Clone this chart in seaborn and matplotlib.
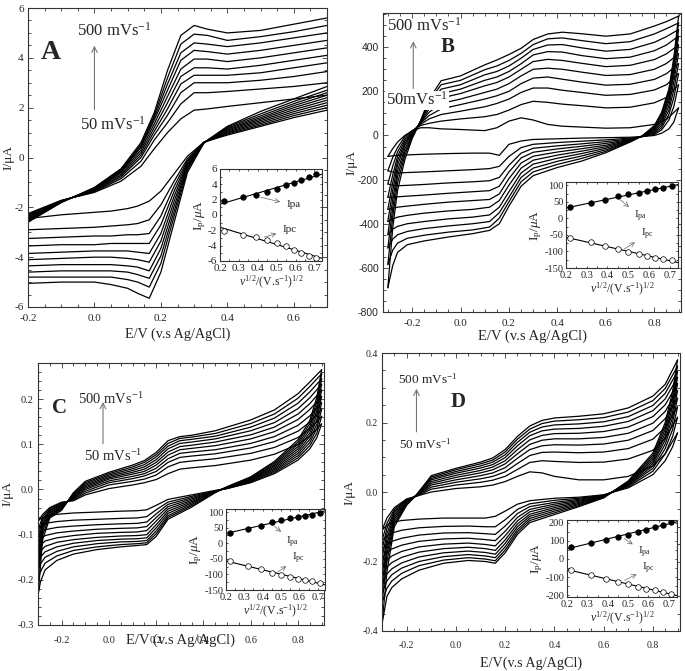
import numpy as np
import pandas as pd
import matplotlib.pyplot as plt
import seaborn as sns
from matplotlib.ticker import MultipleLocator, AutoMinorLocator, FormatStrFormatter

# scan rates (mV/s), one CV trace each
rates = [50, 100, 150, 200, 250, 300, 350, 400, 450, 500]

# ---- panel A : rows = potential, columns = scan rate (50 -> 500)
a_e_fwd = [-0.2, -0.1, 0.0, 0.08, 0.14, 0.18, 0.22, 0.26, 0.3, 0.34, 0.4, 0.5, 0.6, 0.7]
a_i_fwd = [
    [-2.25, -2.29, -2.33, -2.37, -2.41, -2.45, -2.49, -2.53, -2.57, -2.6],
    [-1.72, -1.73, -1.74, -1.75, -1.76, -1.77, -1.78, -1.79, -1.8, -1.81],
    [-1.4, -1.38, -1.35, -1.33, -1.3, -1.28, -1.26, -1.24, -1.22, -1.2],
    [-0.95, -0.85, -0.78, -0.72, -0.66, -0.6, -0.56, -0.52, -0.48, -0.45],
    [-0.35, -0.15, 0.0, 0.1, 0.2, 0.3, 0.4, 0.45, 0.52, 0.6],
    [0.35, 0.7, 0.9, 1.05, 1.2, 1.35, 1.5, 1.6, 1.7, 1.8],
    [1.0, 1.4, 1.7, 1.95, 2.2, 2.45, 2.7, 2.95, 3.2, 3.5],
    [1.55, 2.15, 2.6, 2.95, 3.25, 3.55, 3.9, 4.2, 4.55, 4.9],
    [1.9, 2.6, 3.0, 3.3, 3.6, 3.95, 4.3, 4.6, 4.95, 5.3],
    [1.95, 2.6, 3.0, 3.3, 3.6, 3.95, 4.25, 4.55, 4.9, 5.15],
    [2.05, 2.65, 3.0, 3.3, 3.55, 3.85, 4.15, 4.45, 4.7, 5.0],
    [2.2, 2.75, 3.1, 3.4, 3.7, 4.0, 4.3, 4.6, 4.85, 5.1],
    [2.35, 2.85, 3.25, 3.6, 3.9, 4.2, 4.5, 4.8, 5.05, 5.35],
    [2.5, 3.0, 3.45, 3.8, 4.1, 4.4, 4.7, 5.0, 5.3, 5.6],
]
a_e_rev = [0.7, 0.6, 0.5, 0.4, 0.33, 0.28, 0.24, 0.2, 0.165, 0.13, 0.1, 0.05, 0.0, -0.1, -0.2]
a_i_rev = [
    [1.9, 2.0, 2.1, 2.2, 2.3, 2.4, 2.5, 2.6, 2.7, 2.85],
    [1.6, 1.68, 1.76, 1.84, 1.92, 2.0, 2.08, 2.16, 2.25, 2.35],
    [1.25, 1.3, 1.36, 1.42, 1.48, 1.54, 1.6, 1.67, 1.75, 1.85],
    [0.9, 0.94, 0.98, 1.02, 1.06, 1.1, 1.14, 1.18, 1.22, 1.25],
    [0.62, 0.62, 0.61, 0.61, 0.6, 0.6, 0.6, 0.6, 0.6, 0.6],
    [0.05, -0.05, -0.12, -0.18, -0.25, -0.3, -0.36, -0.42, -0.5, -0.6],
    [-0.65, -0.95, -1.15, -1.35, -1.55, -1.75, -1.95, -2.15, -2.35, -2.6],
    [-1.35, -1.9, -2.35, -2.7, -3.05, -3.35, -3.65, -3.95, -4.25, -4.6],
    [-1.75, -2.5, -3.05, -3.45, -3.85, -4.2, -4.55, -4.85, -5.2, -5.65],
    [-1.95, -2.65, -3.1, -3.45, -3.8, -4.1, -4.4, -4.7, -5.0, -5.45],
    [-2.05, -2.7, -3.1, -3.45, -3.75, -4.05, -4.35, -4.6, -4.9, -5.25],
    [-2.15, -2.75, -3.15, -3.45, -3.75, -4.0, -4.3, -4.55, -4.8, -5.1],
    [-2.2, -2.8, -3.15, -3.5, -3.75, -4.0, -4.3, -4.55, -4.8, -5.0],
    [-2.3, -2.85, -3.2, -3.5, -3.8, -4.05, -4.3, -4.55, -4.8, -5.0],
    [-2.45, -2.9, -3.25, -3.55, -3.85, -4.1, -4.35, -4.6, -4.8, -5.05],
]

# ---- panel B
b_e_fwd = [-0.3, -0.28, -0.26, -0.23, -0.2, -0.165, -0.13, -0.08, 0.0, 0.1, 0.15, 0.2,
           0.25, 0.3, 0.36, 0.42, 0.5, 0.6, 0.7, 0.8, 0.85, 0.9]
b_i_fwd = [
    [-95, -160, -220, -280, -335, -390, -450, -510, -585, -690],
    [-60, -100, -140, -180, -215, -250, -290, -330, -370, -420],
    [-30, -55, -75, -95, -115, -135, -160, -185, -215, -250],
    [0, -5, -15, -25, -35, -45, -60, -75, -90, -110],
    [20, 22, 18, 14, 10, 5, 0, -5, -10, -15],
    [35, 45, 50, 55, 58, 60, 62, 64, 65, 66],
    [35, 55, 75, 90, 105, 120, 135, 145, 155, 165],
    [30, 65, 95, 120, 145, 170, 190, 210, 230, 248],
    [27, 75, 110, 140, 165, 190, 210, 230, 250, 270],
    [22, 85, 130, 165, 195, 225, 250, 275, 298, 320],
    [35, 95, 145, 180, 210, 240, 265, 290, 315, 342],
    [65, 115, 165, 200, 235, 265, 290, 315, 340, 367],
    [80, 140, 195, 235, 270, 300, 325, 350, 372, 395],
    [70, 155, 215, 260, 300, 335, 365, 390, 412, 435],
    [50, 150, 215, 265, 305, 345, 380, 410, 438, 460],
    [42, 142, 205, 255, 300, 340, 378, 412, 442, 468],
    [38, 135, 195, 242, 287, 327, 362, 397, 430, 461],
    [33, 125, 182, 228, 272, 312, 348, 382, 416, 450],
    [35, 128, 186, 232, 276, 318, 355, 390, 425, 460],
    [50, 148, 206, 254, 300, 344, 384, 422, 460, 496],
    [72, 172, 230, 280, 326, 370, 410, 448, 484, 516],
    [125, 230, 280, 325, 370, 410, 450, 480, 510, 541],
]
b_e_rev = [0.9, 0.88, 0.86, 0.83, 0.8, 0.75, 0.7, 0.6, 0.5, 0.4, 0.3, 0.25, 0.2, 0.16,
           0.12, 0.05, -0.05, -0.15, -0.22, -0.26, -0.28, -0.3]
b_i_rev = [
    [125, 230, 280, 325, 370, 410, 450, 480, 510, 541],
    [60, 130, 170, 205, 240, 270, 295, 315, 335, 350],
    [30, 70, 95, 115, 135, 155, 170, 185, 200, 210],
    [10, 25, 35, 45, 55, 65, 75, 85, 95, 105],
    [0, 5, 10, 15, 20, 25, 30, 35, 40, 45],
    [-5, -5, -5, -4, -4, -3, -3, -2, -2, -2],
    [-8, -12, -15, -18, -20, -22, -24, -26, -28, -30],
    [-10, -20, -28, -36, -44, -51, -58, -65, -72, -78],
    [-12, -26, -38, -49, -60, -71, -82, -93, -104, -116],
    [-15, -32, -47, -61, -75, -89, -103, -117, -131, -145],
    [-18, -40, -58, -76, -94, -112, -130, -148, -165, -182],
    [-25, -55, -80, -102, -125, -148, -170, -190, -210, -230],
    [-40, -95, -135, -165, -195, -225, -255, -280, -300, -320],
    [-90, -140, -190, -230, -265, -295, -325, -350, -375, -400],
    [-80, -150, -205, -250, -290, -325, -360, -390, -415, -430],
    [-80, -155, -210, -255, -295, -335, -370, -400, -428, -445],
    [-82, -160, -215, -262, -302, -342, -378, -410, -438, -460],
    [-85, -165, -222, -270, -312, -352, -390, -422, -452, -478],
    [-88, -168, -226, -275, -320, -362, -400, -435, -466, -495],
    [-90, -170, -228, -278, -325, -370, -412, -450, -488, -530],
    [-92, -165, -225, -280, -330, -378, -425, -470, -520, -590],
    [-95, -160, -220, -280, -335, -390, -450, -510, -585, -690],
]

# ---- panel C
c_e_fwd = [-0.3, -0.28, -0.25, -0.2, -0.15, -0.1, 0.0, 0.1, 0.15, 0.2, 0.25, 0.3, 0.35,
           0.45, 0.6, 0.7, 0.8, 0.85, 0.9]
c_i_fwd = [
    [-0.07, -0.09, -0.105, -0.12, -0.135, -0.15, -0.165, -0.18, -0.2, -0.235],
    [-0.055, -0.06, -0.065, -0.07, -0.075, -0.08, -0.085, -0.09, -0.1, -0.11],
    [-0.04, -0.042, -0.045, -0.047, -0.05, -0.052, -0.055, -0.057, -0.06, -0.063],
    [-0.028, -0.03, -0.032, -0.034, -0.036, -0.038, -0.04, -0.042, -0.044, -0.046],
    [-0.025, -0.023, -0.021, -0.019, -0.017, -0.015, -0.013, -0.011, -0.009, -0.007],
    [-0.012, -0.008, -0.004, 0.0, 0.003, 0.006, 0.009, 0.012, 0.015, 0.018],
    [0.002, 0.01, 0.015, 0.019, 0.023, 0.026, 0.029, 0.032, 0.035, 0.038],
    [0.01, 0.018, 0.024, 0.029, 0.034, 0.038, 0.042, 0.046, 0.05, 0.054],
    [0.015, 0.023, 0.03, 0.035, 0.04, 0.045, 0.05, 0.055, 0.06, 0.064],
    [0.022, 0.032, 0.04, 0.047, 0.054, 0.06, 0.066, 0.072, 0.077, 0.082],
    [0.035, 0.05, 0.06, 0.068, 0.076, 0.083, 0.09, 0.096, 0.102, 0.108],
    [0.045, 0.06, 0.071, 0.08, 0.088, 0.095, 0.102, 0.108, 0.113, 0.117],
    [0.048, 0.063, 0.074, 0.083, 0.091, 0.098, 0.105, 0.111, 0.116, 0.12],
    [0.053, 0.068, 0.079, 0.088, 0.097, 0.105, 0.112, 0.118, 0.124, 0.13],
    [0.065, 0.08, 0.092, 0.102, 0.112, 0.121, 0.13, 0.138, 0.146, 0.154],
    [0.078, 0.093, 0.106, 0.117, 0.128, 0.138, 0.148, 0.158, 0.167, 0.176],
    [0.1, 0.115, 0.129, 0.142, 0.155, 0.167, 0.179, 0.191, 0.202, 0.212],
    [0.118, 0.134, 0.149, 0.163, 0.177, 0.19, 0.203, 0.216, 0.228, 0.238],
    [0.145, 0.162, 0.178, 0.192, 0.206, 0.22, 0.233, 0.245, 0.256, 0.265],
]
c_e_rev = [0.9, 0.88, 0.85, 0.8, 0.7, 0.6, 0.5, 0.45, 0.35, 0.25, 0.2, 0.16, 0.12, 0.05,
           -0.05, -0.15, -0.22, -0.27, -0.29, -0.3]
c_i_rev = [
    [0.145, 0.162, 0.178, 0.192, 0.206, 0.22, 0.233, 0.245, 0.256, 0.265],
    [0.115, 0.125, 0.135, 0.145, 0.155, 0.165, 0.175, 0.185, 0.195, 0.205],
    [0.09, 0.097, 0.104, 0.111, 0.118, 0.125, 0.132, 0.139, 0.146, 0.153],
    [0.065, 0.07, 0.075, 0.08, 0.085, 0.09, 0.095, 0.1, 0.105, 0.11],
    [0.035, 0.038, 0.041, 0.044, 0.047, 0.05, 0.053, 0.056, 0.059, 0.062],
    [0.015, 0.016, 0.018, 0.019, 0.021, 0.022, 0.024, 0.025, 0.027, 0.028],
    [0.002, 0.002, 0.003, 0.003, 0.004, 0.004, 0.005, 0.005, 0.006, 0.006],
    [-0.002, -0.003, -0.003, -0.004, -0.004, -0.005, -0.005, -0.006, -0.006, -0.007],
    [-0.012, -0.015, -0.018, -0.021, -0.024, -0.027, -0.03, -0.033, -0.036, -0.039],
    [-0.022, -0.028, -0.033, -0.038, -0.043, -0.048, -0.053, -0.058, -0.062, -0.066],
    [-0.035, -0.045, -0.054, -0.062, -0.07, -0.078, -0.085, -0.092, -0.098, -0.104],
    [-0.045, -0.06, -0.072, -0.082, -0.091, -0.1, -0.107, -0.113, -0.118, -0.122],
    [-0.047, -0.063, -0.075, -0.085, -0.094, -0.102, -0.109, -0.115, -0.12, -0.124],
    [-0.048, -0.064, -0.076, -0.086, -0.095, -0.103, -0.11, -0.116, -0.122, -0.127],
    [-0.05, -0.066, -0.078, -0.088, -0.097, -0.106, -0.113, -0.12, -0.127, -0.133],
    [-0.052, -0.068, -0.081, -0.092, -0.102, -0.111, -0.119, -0.127, -0.135, -0.143],
    [-0.055, -0.071, -0.084, -0.096, -0.107, -0.117, -0.127, -0.137, -0.147, -0.157],
    [-0.06, -0.075, -0.089, -0.102, -0.114, -0.126, -0.138, -0.15, -0.163, -0.178],
    [-0.065, -0.082, -0.096, -0.11, -0.124, -0.137, -0.15, -0.165, -0.182, -0.205],
    [-0.07, -0.09, -0.105, -0.12, -0.135, -0.15, -0.165, -0.18, -0.2, -0.235],
]

# ---- panel D
d_e_fwd = [-0.3, -0.28, -0.25, -0.2, -0.16, -0.1, 0.0, 0.1, 0.15, 0.2, 0.25, 0.3, 0.35,
           0.4, 0.5, 0.6, 0.7, 0.8, 0.85, 0.9]
d_i_fwd = [
    [-0.11, -0.14, -0.165, -0.19, -0.215, -0.24, -0.265, -0.29, -0.32, -0.38],
    [-0.075, -0.09, -0.105, -0.12, -0.135, -0.15, -0.165, -0.18, -0.2, -0.23],
    [-0.045, -0.05, -0.055, -0.06, -0.066, -0.072, -0.078, -0.085, -0.092, -0.1],
    [-0.02, -0.022, -0.024, -0.026, -0.028, -0.03, -0.032, -0.034, -0.036, -0.038],
    [-0.012, -0.012, -0.011, -0.011, -0.01, -0.01, -0.009, -0.009, -0.008, -0.008],
    [0.0, 0.008, 0.014, 0.02, 0.025, 0.03, 0.035, 0.039, 0.043, 0.047],
    [0.01, 0.02, 0.028, 0.035, 0.042, 0.048, 0.054, 0.059, 0.064, 0.068],
    [0.015, 0.028, 0.038, 0.047, 0.055, 0.062, 0.069, 0.075, 0.081, 0.086],
    [0.02, 0.034, 0.045, 0.055, 0.064, 0.072, 0.079, 0.086, 0.092, 0.098],
    [0.03, 0.045, 0.058, 0.07, 0.081, 0.09, 0.099, 0.107, 0.115, 0.122],
    [0.045, 0.065, 0.082, 0.097, 0.11, 0.122, 0.133, 0.143, 0.152, 0.16],
    [0.058, 0.085, 0.105, 0.122, 0.137, 0.15, 0.162, 0.172, 0.181, 0.19],
    [0.055, 0.09, 0.114, 0.133, 0.149, 0.163, 0.176, 0.187, 0.197, 0.206],
    [0.045, 0.088, 0.115, 0.136, 0.153, 0.168, 0.181, 0.193, 0.204, 0.213],
    [0.035, 0.085, 0.113, 0.135, 0.153, 0.169, 0.183, 0.196, 0.208, 0.218],
    [0.035, 0.086, 0.115, 0.138, 0.157, 0.174, 0.189, 0.202, 0.214, 0.225],
    [0.045, 0.095, 0.125, 0.149, 0.169, 0.187, 0.203, 0.217, 0.23, 0.242],
    [0.075, 0.12, 0.152, 0.177, 0.198, 0.217, 0.234, 0.249, 0.263, 0.276],
    [0.11, 0.155, 0.186, 0.211, 0.232, 0.251, 0.268, 0.284, 0.298, 0.31],
    [0.17, 0.215, 0.245, 0.27, 0.292, 0.312, 0.33, 0.347, 0.362, 0.38],
]
d_e_rev = [0.9, 0.88, 0.85, 0.8, 0.7, 0.6, 0.5, 0.4, 0.3, 0.25, 0.2, 0.16, 0.12, 0.05,
           -0.05, -0.15, -0.22, -0.26, -0.28, -0.3]
d_i_rev = [
    [0.17, 0.215, 0.245, 0.27, 0.292, 0.312, 0.33, 0.347, 0.362, 0.38],
    [0.13, 0.16, 0.18, 0.2, 0.215, 0.23, 0.245, 0.26, 0.275, 0.29],
    [0.09, 0.11, 0.125, 0.138, 0.15, 0.16, 0.17, 0.18, 0.19, 0.2],
    [0.05, 0.06, 0.068, 0.075, 0.082, 0.088, 0.094, 0.1, 0.106, 0.112],
    [0.012, 0.015, 0.018, 0.02, 0.022, 0.024, 0.026, 0.028, 0.03, 0.032],
    [-0.008, -0.009, -0.01, -0.011, -0.012, -0.013, -0.014, -0.015, -0.016, -0.017],
    [-0.015, -0.018, -0.021, -0.024, -0.027, -0.03, -0.033, -0.036, -0.039, -0.042],
    [-0.018, -0.024, -0.03, -0.035, -0.04, -0.045, -0.05, -0.055, -0.06, -0.065],
    [-0.025, -0.034, -0.042, -0.05, -0.057, -0.064, -0.07, -0.076, -0.082, -0.088],
    [-0.035, -0.05, -0.062, -0.073, -0.083, -0.092, -0.1, -0.108, -0.115, -0.122],
    [-0.055, -0.08, -0.098, -0.113, -0.126, -0.138, -0.148, -0.158, -0.167, -0.175],
    [-0.07, -0.1, -0.122, -0.14, -0.155, -0.168, -0.179, -0.189, -0.198, -0.205],
    [-0.075, -0.1, -0.12, -0.137, -0.151, -0.163, -0.174, -0.184, -0.193, -0.2],
    [-0.075, -0.098, -0.117, -0.133, -0.147, -0.159, -0.17, -0.18, -0.189, -0.197],
    [-0.075, -0.099, -0.118, -0.135, -0.15, -0.163, -0.175, -0.186, -0.196, -0.205],
    [-0.078, -0.103, -0.124, -0.142, -0.158, -0.173, -0.187, -0.2, -0.212, -0.225],
    [-0.082, -0.11, -0.133, -0.153, -0.171, -0.188, -0.204, -0.219, -0.234, -0.25],
    [-0.088, -0.118, -0.142, -0.164, -0.184, -0.203, -0.221, -0.238, -0.256, -0.275],
    [-0.095, -0.126, -0.151, -0.174, -0.196, -0.216, -0.236, -0.256, -0.277, -0.3],
    [-0.11, -0.14, -0.165, -0.19, -0.215, -0.24, -0.265, -0.29, -0.32, -0.38],
]

# ---- insets: peak current vs sqrt(scan rate)
sqrt_v = [0.22, 0.32, 0.39, 0.45, 0.5, 0.55, 0.59, 0.63, 0.67, 0.71]
a_ipa = [1.8, 2.3, 2.65, 3.05, 3.45, 3.85, 4.2, 4.55, 4.9, 5.3]
a_ipc = [-2.05, -2.55, -2.9, -3.25, -3.6, -4.0, -4.5, -4.9, -5.3, -5.65]
b_ipa = [33, 45, 57, 68, 73, 77, 82, 88, 91, 98]
b_ipc = [-59, -72, -84, -94, -102, -108, -115, -119, -122, -126]
c_ipa = [33, 45, 57, 68, 75, 80, 85, 89, 92, 98]
c_ipc = [-58, -72, -84, -94, -102, -108, -114, -118, -122, -126]
d_ipa = [65, 90, 107, 121, 134, 151, 162, 175, 187, 202]
d_ipc = [-62, -88, -112, -125, -140, -153, -164, -174, -183, -191]

sns.set_style("ticks")
plt.rcParams["font.family"] = ["Liberation Serif", "DejaVu Serif"]
plt.rcParams["mathtext.fontset"] = "custom"
plt.rcParams["mathtext.rm"] = "Liberation Serif"
plt.rcParams["mathtext.it"] = "Liberation Serif:italic"
plt.rcParams["axes.unicode_minus"] = False

W, H = 685, 671


def box(l, t, r, b):
    return [l / W, 1 - b / H, (r - l) / W, (b - t) / H]


def cv_frame(e_fwd, i_fwd, e_rev, i_rev):
    rows = []
    for k, rate in enumerate(rates):
        for e, vals in zip(e_fwd, i_fwd):
            rows.append((f"{rate}f", e, vals[k]))
        for e, vals in zip(e_rev, i_rev):
            rows.append((f"{rate}r", e, vals[k]))
    return pd.DataFrame(rows, columns=["trace", "E", "I"])


def style_axes(ax, xmaj, ymaj, xmin=4, ymin=4, size=8, pad=3):
    ax.xaxis.set_major_locator(MultipleLocator(xmaj))
    ax.yaxis.set_major_locator(MultipleLocator(ymaj))
    ax.xaxis.set_minor_locator(AutoMinorLocator(xmin))
    ax.yaxis.set_minor_locator(AutoMinorLocator(ymin))
    ax.tick_params(which="both", direction="in", top=True, right=True,
                   labelsize=size, width=0.6, color="#333333", pad=3)
    ax.tick_params(axis="x", pad=pad)
    ax.tick_params(which="major", length=3.5)
    ax.tick_params(which="minor", length=2)
    for s in ax.spines.values():
        s.set_linewidth(0.8)
        s.set_color("#333333")


def draw_cv(ax, frame):
    sns.lineplot(data=frame, x="E", y="I", units="trace", estimator=None, sort=False,
                 color="black", lw=0.9, ax=ax, legend=False)


def draw_inset(ax, ipa, ipc, ylim, ymaj, tsize=7.5):
    df = pd.DataFrame({"v": sqrt_v, "ipa": ipa, "ipc": ipc})
    for col in ["ipa", "ipc"]:
        sns.regplot(data=df, x="v", y=col, ax=ax, ci=None, scatter=False, truncate=False,
                    color="black", line_kws={"lw": 0.8})
    sns.scatterplot(data=df, x="v", y="ipa", ax=ax, color="black", s=16,
                    edgecolor="black", linewidth=0.5, zorder=3)
    sns.scatterplot(data=df, x="v", y="ipc", ax=ax, facecolor="white", s=16,
                    edgecolor="black", linewidth=0.5, zorder=3)
    ax.set_xlim(0.2, 0.74)
    ax.set_ylim(*ylim)
    style_axes(ax, 0.1, ymaj, 2, 2, tsize)
    ax.tick_params(which="both", length=1.5, pad=2)
    ax.xaxis.set_major_formatter(FormatStrFormatter("%.1f"))
    ax.set_xlabel(r"$\nu^{1/2}$/(V.s$^{-1}$)$^{1/2}$", fontsize=8.5, labelpad=1)
    ax.set_ylabel(r"I$_\mathrm{p}$/$\mu$A", fontsize=9.5, labelpad=0)


def rate_labels(ax, top_xy, low_xy, arrow_x, arrow_y, size=10.5, low_text="50 mVs",
                backed=False):
    ax.text(*top_xy, r"500 mVs$^{-1}$", fontsize=size, ha="center", va="center")
    low = ax.text(*low_xy, low_text + r"$^{-1}$", fontsize=size, ha="center",
                  va="center", zorder=5)
    if backed:
        low.set_bbox(dict(facecolor="white", edgecolor="none", pad=0.5))
    ax.annotate("", xy=(arrow_x, arrow_y[1]), xytext=(arrow_x, arrow_y[0]),
                arrowprops=dict(arrowstyle="->", color="#777777", lw=0.8))


def peak_labels(ax, pa_from, pa_to, pc_from, pc_to, names=(r"I$_\mathrm{pa}$", r"I$_\mathrm{pc}$")):
    ax.annotate(names[0], xy=pa_from, xytext=pa_to, fontsize=8,
                ha="left", va="top",
                arrowprops=dict(arrowstyle="<-", color="#666666", lw=0.5))
    ax.annotate(names[1], xy=pc_from, xytext=pc_to, fontsize=8,
                ha="left", va="bottom",
                arrowprops=dict(arrowstyle="<-", color="#666666", lw=0.5))


fig = plt.figure(figsize=(W / 100, H / 100), dpi=100)
fig.patch.set_facecolor("white")

# ---------------- A
axA = fig.add_axes(box(28, 8, 327, 307))
draw_cv(axA, cv_frame(a_e_fwd, a_i_fwd, a_e_rev, a_i_rev))
axA.set_xlim(-0.2, 0.7)
axA.set_ylim(-6, 6)
style_axes(axA, 0.2, 2, pad=5)
axA.xaxis.set_major_formatter(FormatStrFormatter("%.1f"))
axA.set_xlabel("E/V (v.s Ag/AgCl)", fontsize=10.2, labelpad=3)
axA.set_ylabel("I/\u03bcA", fontsize=9.5)
axA.yaxis.set_label_coords(-0.045, 0.5)
axA.text(-0.13, 4.2, "A", fontsize=20, fontweight="bold", ha="center", va="center")
rate_labels(axA, (0.06, 5.1), (0.055, 1.3), 0.0, (1.8, 4.6), size=12)

insA = fig.add_axes(box(220, 169, 322, 261))
draw_inset(insA, a_ipa, a_ipc, (-6, 6), 2, 8)
peak_labels(insA, (0.40, 2.4), (0.55, 1.9), (0.42, -3.0), (0.53, -2.5), names=("Ipa", "Ipc"))

# ---------------- B
axB = fig.add_axes(box(383, 13, 681, 312))
draw_cv(axB, cv_frame(b_e_fwd, b_i_fwd, b_e_rev, b_i_rev))
axB.set_xlim(-0.32, 0.91)
axB.set_ylim(-800, 555)
style_axes(axB, 0.2, 200, pad=5)
axB.xaxis.set_major_formatter(FormatStrFormatter("%.1f"))
for lab in axB.get_yticklabels():
    lab.set_family("Liberation Sans")
    lab.set_fontsize(7.5)
axB.set_xlabel("E/V (v.s Ag/AgCl)", fontsize=10.5, labelpad=1)
axB.set_ylabel("I/\u03bcA", fontsize=9.5)
axB.yaxis.set_label_coords(-0.087, 0.5)
axB.text(-0.055, 400, "B", fontsize=15, fontweight="bold", ha="center", va="center")
rate_labels(axB, (-0.15, 495), (-0.18, 160), -0.195, (200, 440), size=12,
            low_text="50mVs", backed=True)

insB = fig.add_axes(box(566, 182, 678, 268))
draw_inset(insB, b_ipa, b_ipc, (-150, 110), 50)
peak_labels(insB, (0.45, 62), (0.53, 28), (0.47, -97), (0.56, -72))

# ---------------- C
axC = fig.add_axes(box(38, 363, 324, 625))
draw_cv(axC, cv_frame(c_e_fwd, c_i_fwd, c_e_rev, c_i_rev))
axC.set_xlim(-0.3, 0.91)
axC.set_ylim(-0.3, 0.28)
style_axes(axC, 0.2, 0.1, 4, 5, 7.5, pad=8)
axC.xaxis.set_major_formatter(FormatStrFormatter("%.1f"))
axC.yaxis.set_major_formatter(FormatStrFormatter("%.1f"))
axC.set_xlabel("E/V (v.s Ag/AgCl)", fontsize=10.5, labelpad=-8)
axC.set_ylabel("I/\u03bcA", fontsize=9.5)
axC.yaxis.set_label_coords(-0.087, 0.5)
axC.text(-0.21, 0.18, "C", fontsize=15, fontweight="bold", ha="center", va="center")
rate_labels(axC, (0.01, 0.2), (0.02, 0.073), -0.025, (0.095, 0.2))

insC = fig.add_axes(box(226, 509, 325, 590))
draw_inset(insC, c_ipa, c_ipc, (-150, 110), 50)
peak_labels(insC, (0.45, 62), (0.53, 28), (0.47, -97), (0.56, -72))

# ---------------- D
axD = fig.add_axes(box(382, 353, 680, 631))
draw_cv(axD, cv_frame(d_e_fwd, d_i_fwd, d_e_rev, d_i_rev))
axD.set_xlim(-0.3, 0.91)
axD.set_ylim(-0.4, 0.4)
style_axes(axD, 0.2, 0.2, 4, 4, 7, pad=7)
axD.xaxis.set_major_formatter(FormatStrFormatter("%.1f"))
axD.yaxis.set_major_formatter(FormatStrFormatter("%.1f"))
axD.set_xlabel("E/V(v.s Ag/AgCl)", fontsize=10.2, labelpad=5)
axD.set_ylabel("I/\u03bcA", fontsize=9.5)
axD.yaxis.set_label_coords(-0.09, 0.5)
axD.text(0.01, 0.26, "D", fontsize=15, fontweight="bold", ha="center", va="center")
rate_labels(axD, (-0.115, 0.325), (-0.125, 0.137), -0.16, (0.165, 0.305), size=9.5)

insD = fig.add_axes(box(567, 520, 677, 597))
draw_inset(insD, d_ipa, d_ipc, (-210, 215), 100)
peak_labels(insD, (0.47, 122), (0.55, 75), (0.47, -125), (0.57, -92))

fig.savefig("out.png", dpi=100, facecolor="white")
plt.close(fig)
